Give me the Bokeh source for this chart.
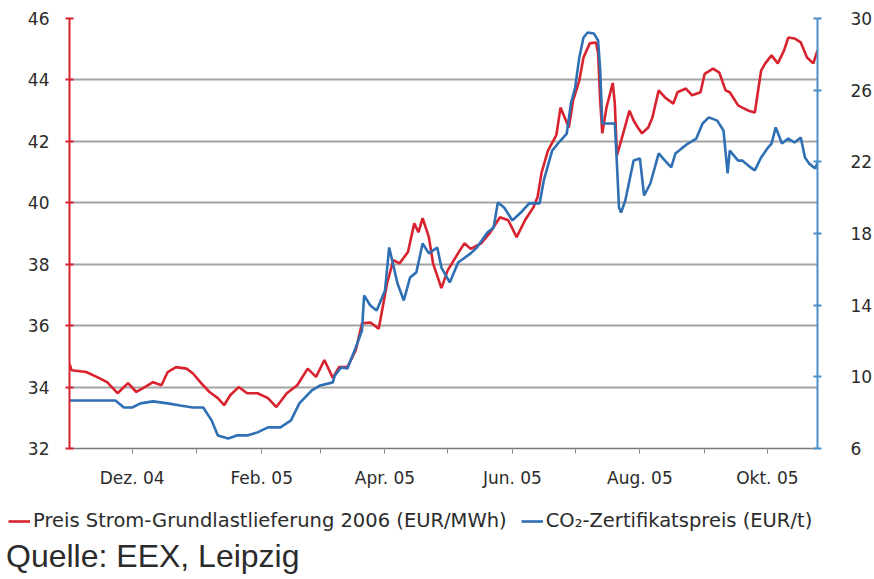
from bokeh.plotting import figure
from bokeh.layouts import column
from bokeh.models import Range1d, LinearAxis, FixedTicker, Legend, LegendItem
from bokeh.embed import file_html
from bokeh.resources import INLINE
import pandas as pd

strom_dates = [
    "2004-11-01", "2004-11-02", "2004-11-09", "2004-11-14", "2004-11-19", "2004-11-24", "2004-11-29",
    "2004-12-03", "2004-12-07", "2004-12-11", "2004-12-15", "2004-12-18", "2004-12-22", "2004-12-27", "2004-12-30",
    "2005-01-03", "2005-01-07", "2005-01-11", "2005-01-14", "2005-01-17", "2005-01-21", "2005-01-25", "2005-01-30",
    "2005-02-04", "2005-02-08", "2005-02-13", "2005-02-18", "2005-02-23", "2005-02-27",
    "2005-03-03", "2005-03-07", "2005-03-10", "2005-03-14", "2005-03-18", "2005-03-21", "2005-03-25", "2005-03-29",
    "2005-04-02", "2005-04-05", "2005-04-08", "2005-04-12", "2005-04-15", "2005-04-17", "2005-04-19", "2005-04-22",
    "2005-04-24", "2005-04-28",
    "2005-05-01", "2005-05-06", "2005-05-09", "2005-05-12", "2005-05-17", "2005-05-21", "2005-05-26", "2005-05-30",
    "2005-06-03", "2005-06-07", "2005-06-11", "2005-06-13", "2005-06-15", "2005-06-18", "2005-06-22", "2005-06-24",
    "2005-06-28", "2005-06-30",
    "2005-07-03", "2005-07-05", "2005-07-08", "2005-07-11", "2005-07-12", "2005-07-13", "2005-07-14", "2005-07-16",
    "2005-07-19", "2005-07-20", "2005-07-21", "2005-07-24", "2005-07-27", "2005-07-29", "2005-07-31",
    "2005-08-02", "2005-08-05", "2005-08-07", "2005-08-10", "2005-08-13", "2005-08-17", "2005-08-19", "2005-08-23",
    "2005-08-26", "2005-08-30",
    "2005-09-01", "2005-09-05", "2005-09-08", "2005-09-11", "2005-09-13", "2005-09-17", "2005-09-19", "2005-09-22",
    "2005-09-25", "2005-09-28", "2005-09-30",
    "2005-10-03", "2005-10-06", "2005-10-09", "2005-10-11", "2005-10-14", "2005-10-17", "2005-10-20", "2005-10-23",
    "2005-10-25",
]
strom_values = [
    34.75, 34.55, 34.49, 34.33, 34.16, 33.80, 34.13,
    33.84, 34.00, 34.16, 34.06, 34.49, 34.65, 34.60, 34.45,
    34.13, 33.84, 33.64, 33.41, 33.74, 34.00, 33.80, 33.80,
    33.64, 33.35, 33.80, 34.06, 34.60, 34.33,
    34.88, 34.30, 34.65, 34.65, 35.20, 36.08, 36.10, 35.90,
    37.38, 38.13, 38.03, 38.40, 39.33, 39.04, 39.50, 38.88,
    38.03, 37.22,
    37.80, 38.36, 38.68, 38.50, 38.68, 39.00, 39.53, 39.43,
    38.88, 39.43, 39.85, 40.18, 41.00, 41.70, 42.20, 43.10,
    42.45, 43.33,
    43.98, 44.73, 45.19, 45.22, 44.86, 43.33, 42.26, 43.10,
    43.90, 43.23, 41.54, 42.26, 43.00, 42.68, 42.45,
    42.26, 42.45, 42.78, 43.66, 43.43, 43.23, 43.60, 43.72,
    43.50, 43.60,
    44.20, 44.37, 44.24, 43.66, 43.60, 43.17, 43.10, 43.00,
    42.94, 44.30, 44.54,
    44.80, 44.54, 44.96, 45.38, 45.35, 45.22, 44.73, 44.54,
    44.96,
]

co2_dates = [
    "2004-11-01", "2004-11-12", "2004-11-23", "2004-11-27",
    "2004-12-01", "2004-12-05", "2004-12-11", "2004-12-18", "2004-12-24", "2004-12-30",
    "2005-01-04", "2005-01-08", "2005-01-11", "2005-01-16", "2005-01-20", "2005-01-25", "2005-01-30",
    "2005-02-04", "2005-02-10", "2005-02-15", "2005-02-19", "2005-02-25",
    "2005-03-01", "2005-03-07", "2005-03-08", "2005-03-11", "2005-03-14", "2005-03-18", "2005-03-21", "2005-03-22",
    "2005-03-25", "2005-03-28",
    "2005-04-01", "2005-04-03", "2005-04-07", "2005-04-10", "2005-04-13", "2005-04-16", "2005-04-19", "2005-04-22",
    "2005-04-26", "2005-04-28",
    "2005-05-02", "2005-05-06", "2005-05-12", "2005-05-15", "2005-05-20", "2005-05-23", "2005-05-25", "2005-05-28",
    "2005-06-01", "2005-06-05", "2005-06-09", "2005-06-14", "2005-06-16", "2005-06-20", "2005-06-24", "2005-06-27",
    "2005-06-29",
    "2005-07-01", "2005-07-03", "2005-07-05", "2005-07-07", "2005-07-10", "2005-07-12", "2005-07-13", "2005-07-14",
    "2005-07-16", "2005-07-20", "2005-07-21", "2005-07-22", "2005-07-23", "2005-07-25", "2005-07-29",
    "2005-08-01", "2005-08-03", "2005-08-06", "2005-08-10", "2005-08-13", "2005-08-16", "2005-08-18", "2005-08-21",
    "2005-08-24", "2005-08-28", "2005-08-31",
    "2005-09-03", "2005-09-07", "2005-09-10", "2005-09-12", "2005-09-13", "2005-09-17", "2005-09-19", "2005-09-23",
    "2005-09-25", "2005-09-28",
    "2005-10-01", "2005-10-03", "2005-10-05", "2005-10-08", "2005-10-11", "2005-10-14", "2005-10-17", "2005-10-19",
    "2005-10-21", "2005-10-24", "2005-10-25",
]
co2_values = [
    8.68, 8.68, 8.68, 8.29,
    8.29, 8.52, 8.63, 8.52, 8.40, 8.29,
    8.29, 7.57, 6.73, 6.56, 6.73, 6.73, 6.90,
    7.18, 7.18, 7.57, 8.52, 9.24,
    9.52, 9.69, 10.08, 10.52, 10.47, 11.64, 12.59, 14.54,
    13.98, 13.70,
    14.82, 17.22, 15.21, 14.26, 15.55, 15.83, 17.44, 16.89,
    17.22, 16.10,
    15.27, 16.38, 16.89, 17.22, 18.06, 18.34, 19.73, 19.45,
    18.73, 19.17, 19.68, 19.68, 20.96, 22.63, 23.19, 23.58,
    25.26,
    26.15, 27.82, 28.94, 29.22, 29.16, 28.77, 27.10, 24.14,
    24.14, 24.14, 21.90, 19.45, 19.17, 19.84, 22.07,
    22.19, 20.12, 20.79, 22.47, 22.07, 21.69, 22.47, 22.75,
    23.02, 23.30, 24.14,
    24.48, 24.30, 23.75, 21.35, 22.63, 22.07, 22.07, 21.69,
    21.52, 22.24,
    22.75, 23.02, 23.92, 23.02, 23.30, 23.08, 23.36, 22.24,
    21.90, 21.63, 21.96,
]

left_ticks = [32, 34, 36, 38, 40, 42, 44, 46]
right_ticks = [6, 10, 14, 18, 22, 26, 30]
month_ticks = ["2004-12-01", "2005-01-01", "2005-02-01", "2005-03-01", "2005-04-01", "2005-05-01",
               "2005-06-01", "2005-07-01", "2005-08-01", "2005-09-01", "2005-10-01"]
month_labels = ["Dez. 04", "", "Feb. 05", "", "Apr. 05", "", "Jun. 05", "", "Aug. 05", "", "Okt. 05"]
x_start, x_end = "2004-11-01", "2005-10-25"

strom_label = "Preis Strom-Grundlastlieferung 2006 (EUR/MWh)"
co2_label = "CO\u2082-Zertifikatspreis (EUR/t)"
source_text = "Quelle: EEX, Leipzig"

RED = "#d8232e"
BLUE = "#2f6fb4"
AX_BLUE = "#4a8fcc"
FONT = "DejaVu Sans"
TXT = "#2b2b2b"

W = 872
H_MAIN = 490
H_FOOT = 87


def ms(d):
    return float(pd.Timestamp(d).value // 10**6)


p = figure(
    x_axis_type="datetime",
    frame_width=748, frame_height=430,
    min_border_left=69, min_border_top=18, min_border_right=W - 69 - 748, min_border_bottom=H_MAIN - 18 - 430,
    output_backend="svg", toolbar_location=None,
    x_range=Range1d(pd.Timestamp(x_start), pd.Timestamp(x_end)),
    y_range=Range1d(32, 46),
)
p.outline_line_color = None
p.background_fill_color = "white"
p.border_fill_color = "white"

p.extra_y_ranges = {"co2": Range1d(6, 30)}

r_strom = p.line(pd.to_datetime(strom_dates), strom_values, line_color=RED, line_width=2.6)
r_co2 = p.line(pd.to_datetime(co2_dates), co2_values, line_color=BLUE, line_width=2.6, y_range_name="co2")

# x axis
xa = p.xaxis[0]
labeled = [ms(d) for d, l in zip(month_ticks, month_labels) if l]
xa.ticker = FixedTicker(ticks=labeled, minor_ticks=[ms(d) for d in month_ticks])
xa.major_label_overrides = {ms(d): l for d, l in zip(month_ticks, month_labels) if l}
xa.axis_line_color = "#7a7a7a"
xa.axis_line_width = 1.5
xa.major_tick_line_color = "#8a8a8a"
xa.minor_tick_line_color = "#8a8a8a"
xa.major_tick_in = 0
xa.major_tick_out = 5
xa.minor_tick_in = 0
xa.minor_tick_out = 5
xa.major_label_standoff = 14
xa.major_label_text_font = FONT
xa.major_label_text_font_size = "17px"
xa.major_label_text_color = TXT

# left axis
ya = p.yaxis[0]
ya.ticker = FixedTicker(ticks=left_ticks)
ya.axis_line_color = RED
ya.axis_line_width = 2
ya.major_tick_line_color = RED
ya.major_tick_line_width = 2
ya.major_tick_in = 4
ya.major_tick_out = 4
ya.minor_tick_line_color = None
ya.major_label_standoff = 16
ya.major_label_text_font = FONT
ya.major_label_text_font_size = "17px"
ya.major_label_text_color = TXT

# right axis
ra = LinearAxis(y_range_name="co2", ticker=FixedTicker(ticks=right_ticks))
ra.axis_line_color = AX_BLUE
ra.axis_line_width = 2
ra.major_tick_line_color = AX_BLUE
ra.major_tick_line_width = 2
ra.major_tick_in = 4
ra.major_tick_out = 4
ra.minor_tick_line_color = None
ra.major_label_standoff = 29
ra.major_label_text_font = FONT
ra.major_label_text_font_size = "17px"
ra.major_label_text_color = TXT
p.add_layout(ra, "right")

p.xgrid.grid_line_color = None
p.ygrid.ticker = FixedTicker(ticks=left_ticks)
p.ygrid.grid_line_color = "#a4a4a4"
p.ygrid.grid_line_width = 2

# footer: legend and source line
f = figure(
    frame_width=W, frame_height=H_FOOT, min_border=0,
    x_range=Range1d(0, W), y_range=Range1d(H_FOOT, 0),
    output_backend="svg", toolbar_location=None,
    x_axis_location=None, y_axis_location=None,
)
f.grid.grid_line_color = None
f.outline_line_color = None
f.background_fill_color = "white"
f.border_fill_color = "white"

# legend keys: line renderers whose points lie outside the visible footer range
k_strom = f.line([-50, -40], [-50, -50], line_color=RED, line_width=2.6)
k_co2 = f.line([-50, -40], [-50, -50], line_color=BLUE, line_width=2.6)
k_src = f.line([-50, -40], [-50, -50], line_color=None, line_alpha=0)

legend = Legend(
    items=[LegendItem(label=strom_label, renderers=[k_strom]),
           LegendItem(label=co2_label, renderers=[k_co2])],
    orientation="horizontal",
    location=(8, H_FOOT - 22 - 20),
    label_text_font=FONT, label_text_font_size="19.5px", label_text_color=TXT,
    glyph_width=22, glyph_height=20, label_standoff=3, spacing=14,
    padding=0, margin=0, border_line_color=None, background_fill_alpha=0,
)
f.add_layout(legend, "center")

source = Legend(
    items=[LegendItem(label=source_text, renderers=[k_src])],
    location=(6, 2),
    label_text_font="Liberation Sans", label_text_font_size="32px", label_text_color=TXT,
    glyph_width=0, glyph_height=37, label_standoff=0,
    padding=0, margin=0, border_line_color=None, background_fill_alpha=0,
)
f.add_layout(source, "center")

page = column(p, f, spacing=0)
open("out.html", "w").write(file_html(page, INLINE))
